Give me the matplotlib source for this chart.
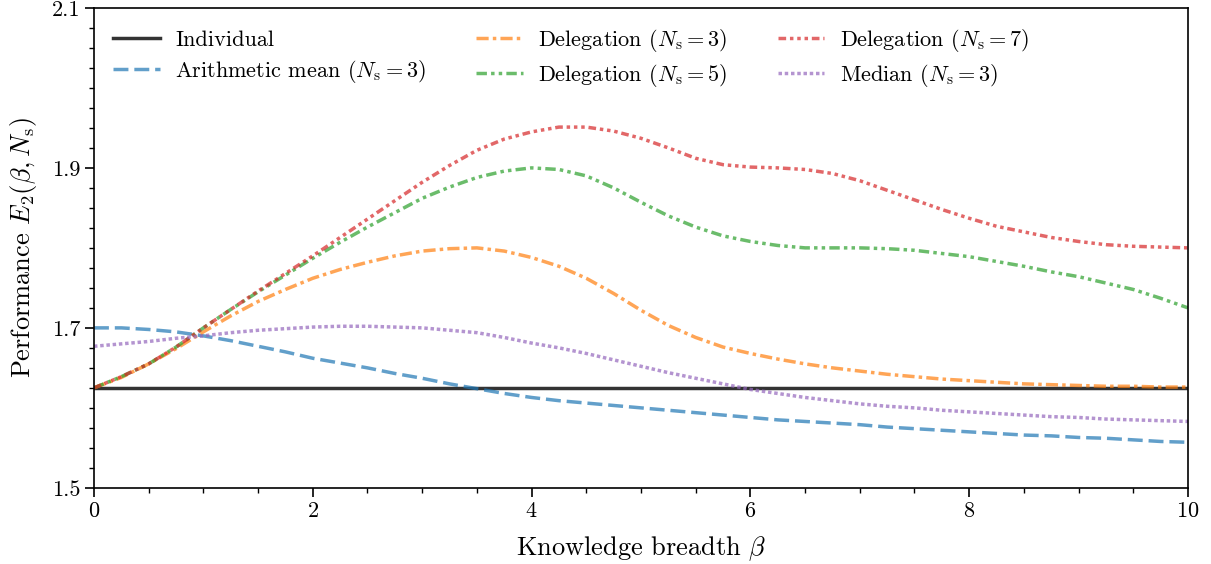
import numpy as np
import matplotlib
matplotlib.use("Agg")
import matplotlib.pyplot as plt
from matplotlib.ticker import FixedLocator, MultipleLocator

plt.rcParams["font.family"] = "serif"
plt.rcParams["font.serif"] = ["cmr10", "DejaVu Serif"]
plt.rcParams["mathtext.fontset"] = "cm"
plt.rcParams["axes.formatter.use_mathtext"] = True
plt.rcParams["font.size"] = 16

# knowledge breadth grid
beta = np.arange(0, 10.01, 0.25)

individual = [1.625]*len(beta)
arith_mean = [1.700, 1.700, 1.698, 1.695, 1.690, 1.684, 1.677, 1.670, 1.662, 1.656,
              1.650, 1.643, 1.637, 1.630, 1.624, 1.618, 1.613, 1.609, 1.606, 1.603,
              1.600, 1.597, 1.594, 1.591, 1.588, 1.585, 1.583, 1.581, 1.579, 1.576,
              1.574, 1.572, 1.570, 1.568, 1.566, 1.565, 1.563, 1.562, 1.560, 1.558, 1.557]
deleg_3 = [1.625, 1.638, 1.655, 1.674, 1.695, 1.715, 1.733, 1.748, 1.762, 1.773,
           1.782, 1.790, 1.796, 1.799, 1.800, 1.796, 1.788, 1.777, 1.762, 1.743,
           1.722, 1.703, 1.688, 1.676, 1.668, 1.661, 1.655, 1.650, 1.646, 1.642,
           1.639, 1.636, 1.634, 1.632, 1.630, 1.629, 1.628, 1.627, 1.627, 1.626, 1.626]
deleg_5 = [1.625, 1.639, 1.655, 1.676, 1.700, 1.723, 1.745, 1.766, 1.787, 1.807,
           1.826, 1.844, 1.862, 1.876, 1.888, 1.896, 1.900, 1.898, 1.890, 1.875,
           1.857, 1.840, 1.826, 1.815, 1.808, 1.803, 1.800, 1.800, 1.800, 1.799,
           1.797, 1.793, 1.789, 1.783, 1.777, 1.770, 1.764, 1.756, 1.748, 1.737, 1.725]
deleg_7 = [1.625, 1.639, 1.655, 1.676, 1.700, 1.723, 1.746, 1.768, 1.790, 1.813,
           1.836, 1.859, 1.882, 1.903, 1.922, 1.936, 1.945, 1.951, 1.951, 1.946,
           1.937, 1.925, 1.912, 1.904, 1.901, 1.900, 1.898, 1.893, 1.884, 1.872,
           1.860, 1.848, 1.837, 1.827, 1.820, 1.813, 1.808, 1.804, 1.802, 1.801, 1.800]
median_3 = [1.677, 1.680, 1.683, 1.687, 1.690, 1.694, 1.697, 1.699, 1.701, 1.702,
            1.702, 1.701, 1.700, 1.697, 1.694, 1.688, 1.681, 1.675, 1.668, 1.660,
            1.652, 1.644, 1.637, 1.630, 1.623, 1.618, 1.613, 1.609, 1.605, 1.602,
            1.600, 1.597, 1.595, 1.593, 1.591, 1.589, 1.588, 1.586, 1.585, 1.584, 1.583]

y_major = [1.5, 1.7, 1.9, 2.1]

fig = plt.figure(figsize=(12.11, 5.64), dpi=100)
ax = fig.add_axes([0.0776, 0.135, 0.9034, 0.851])

lw = 2.5
ax.plot(beta, individual, color="k", alpha=0.8, lw=lw, label="Individual")
ax.plot(beta, arith_mean, color="tab:blue", alpha=0.7, lw=lw, ls=(0, (4.3, 1.7)),
        label=r"Arithmetic mean ($N_\mathrm{s}=3$)")
ax.plot(beta, deleg_3, color="tab:orange", alpha=0.7, lw=lw, ls=(0, (3.5, 1.2, 1, 1.2)),
        label=r"Delegation ($N_\mathrm{s}=3$)")
ax.plot(beta, deleg_5, color="tab:green", alpha=0.7, lw=lw, ls=(0, (3, 1.2, 1, 1.2, 1, 1.2)),
        label=r"Delegation ($N_\mathrm{s}=5$)")
ax.plot(beta, deleg_7, color="tab:red", alpha=0.7, lw=lw, ls=(0, (2.2, 1.1, 1, 1.1, 1, 1.1, 1, 1.1)),
        label=r"Delegation ($N_\mathrm{s}=7$)")
ax.plot(beta, median_3, color="tab:purple", alpha=0.7, lw=lw, ls=(0, (1, 0.8)),
        label=r"Median ($N_\mathrm{s}=3$)")

ax.set_xlim(0, 10)
ax.set_ylim(1.5, 2.1)
ax.xaxis.set_major_locator(MultipleLocator(2))
ax.xaxis.set_minor_locator(MultipleLocator(0.5))
ax.yaxis.set_major_locator(FixedLocator(y_major))
ax.yaxis.set_minor_locator(FixedLocator(np.arange(1.5, 2.1001, 0.025)))
ax.set_yticklabels(["1.5", "1.7", "1.9", "2.1"])
ax.tick_params(which="major", length=6.5, width=1.2, labelsize=16)
ax.tick_params(which="minor", length=3.5, width=1)
for s in ax.spines.values():
    s.set_linewidth(1.2)

ax.set_xlabel(r"Knowledge breadth $\beta$", fontsize=19, labelpad=9)
ax.set_ylabel(r"Performance $E_2(\beta, N_\mathrm{s})$", fontsize=19, labelpad=9)

ax.legend(loc="upper left", ncol=3, frameon=False, handlelength=2.1,
          handletextpad=0.7, columnspacing=2.25, labelspacing=0.35,
          fontsize=16, borderaxespad=0.45)

plt.savefig("out.png", dpi=100)
